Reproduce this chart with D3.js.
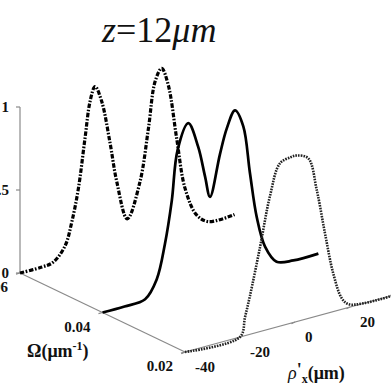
<!DOCTYPE html>
<html>
<head>
<meta charset="utf-8">
<script src="https://cdn.jsdelivr.net/npm/d3@7"></script>
<style>
  html, body { margin: 0; padding: 0; background: #fff; }
  svg { display: block; }
</style>
</head>
<body>
<svg id="chart" width="391" height="391"></svg>
<script>
// Data
const omegaLevels = [0.06, 0.04, 0.02];          // one curve per spectral slice
const rhoTicks = [-40, -20, 0, 20];
const omegaTicks = [0.06, 0.04, 0.02];
const omegaTickLabels = ["0.06", "0.04", "0.02"];
const intensityTicks = [0, 0.5, 1];
const intensityTickLabels = ["0", "0.5", "1"];

// Omega = 0.06 (dash-dot)
const rho06 = [-40, -32, -28, -23.6, -21.2, -18.8, -16.4, -14.5, -12.7, -10.3, -7.3, -4.8, -1.0, 3.6, 6.7, 9.1, 11.5, 13.9, 17, 20, 24.2, 28.5, 38];
const int06 = [0, 0, 0.01, 0.09, 0.22, 0.41, 0.70, 0.92, 1.0, 0.90, 0.64, 0.39, 0.15, 0.35, 0.66, 0.93, 1.0, 0.89, 0.55, 0.24, 0.06, 0, 0];

// Omega = 0.04 (solid)
const rho04 = [-40, -32, -24.5, -20.3, -17.3, -14.8, -12.7, -8.8, -5.2, -2.7, -0.9, 2.7, 5.2, 8.2, 11.2, 13.6, 16.1, 19.1, 23.3, 29.4, 38.5];
const int04 = [0, 0, 0.01, 0.11, 0.31, 0.56, 0.855, 1.0, 0.84, 0.65, 0.52, 0.76, 0.905, 1.0, 0.89, 0.60, 0.32, 0.13, 0.02, 0, 0];

// Omega = 0.02 (dotted)
const rho02 = [-40, -20, -18.2, -16.4, -12.7, -9.1, -5.5, -1.5, 0.6, 4.8, 7.9, 10.9, 13.9, 17, 19.4, 25, 38];
const int02 = [0, 0, 0.11, 0.23, 0.51, 0.80, 0.98, 1.0, 1.0, 0.965, 0.76, 0.485, 0.23, 0.066, 0.02, 0, 0];

const seriesRho = [rho06, rho04, rho02];
const seriesInt = [int06, int04, int02];
const dashes = ["4.5,1.6,1.6,1.6", null, "1.6,1.1"];
const widths = [3.2, 2.7, 2.6];

const serif = "Liberation Serif";
const svg = d3.select("#chart");

// oblique projection built from linear scales
const origin = [20, 273];
const rhoX = d3.scaleLinear().domain([-40, 40]).range([0, 220]);
const rhoY = d3.scaleLinear().domain([-40, 40]).range([0, -60]);
const omX = d3.scaleLinear().domain([0.06, 0.02]).range([0, 165]);
const omY = d3.scaleLinear().domain([0.06, 0.02]).range([0, 79]);
const zY = d3.scaleLinear().domain([0, 1]).range([0, -166]);

function proj(r, w, v) {
    return [origin[0] + rhoX(r) + omX(w), origin[1] + rhoY(r) + omY(w) + zY(v)];
}

function label(x, y, txt, anchor) {
    return svg.append("text")
        .attr("x", x).attr("y", y)
        .attr("text-anchor", anchor)
        .attr("font-family", serif)
        .attr("font-size", 15).attr("font-weight", "bold")
        .attr("fill", "#111")
        .text(txt);
}

const axisColor = "#8a8a8a";
const axes = svg.append("g").attr("stroke", axisColor).attr("stroke-width", 1.2).attr("fill", "none");

// vertical intensity axis
axes.append("line")
    .attr("x1", proj(-40, 0.06, 0)[0]).attr("y1", proj(-40, 0.06, 0)[1])
    .attr("x2", proj(-40, 0.06, 1)[0]).attr("y2", proj(-40, 0.06, 1)[1]);
intensityTicks.forEach((t, i) => {
    const p = proj(-40, 0.06, t);
    axes.append("line").attr("x1", p[0] - 4).attr("y1", p[1]).attr("x2", p[0]).attr("y2", p[1]);
    label(p[0] - 11, p[1] + 5, intensityTickLabels[i], "end");
});

// Omega axis (left front)
axes.append("line")
    .attr("x1", proj(-40, 0.06, 0)[0]).attr("y1", proj(-40, 0.06, 0)[1])
    .attr("x2", proj(-40, 0.02, 0)[0]).attr("y2", proj(-40, 0.02, 0)[1]);
omegaTicks.forEach((t, i) => {
    const p = proj(-40, t, 0);
    axes.append("line").attr("x1", p[0]).attr("y1", p[1]).attr("x2", p[0] - 4).attr("y2", p[1] + 1.1);
    label(p[0] - 12, p[1] + 19, omegaTickLabels[i], "end");
});

// rho axis (right front)
axes.append("line")
    .attr("x1", proj(-40, 0.02, 0)[0]).attr("y1", proj(-40, 0.02, 0)[1])
    .attr("x2", proj(40, 0.02, 0)[0]).attr("y2", proj(40, 0.02, 0)[1]);
rhoTicks.forEach(t => {
    const p = proj(t, 0.02, 0);
    axes.append("line").attr("x1", p[0]).attr("y1", p[1]).attr("x2", p[0] - 3.6).attr("y2", p[1] + 1.7);
    label(p[0] + 10, p[1] + 20, String(t), "start");
});

// curves
const line = d3.line().curve(d3.curveCatmullRom.alpha(0.5));
omegaLevels.forEach((w, k) => {
    const pts = seriesRho[k].map((r, i) => proj(r, w, seriesInt[k][i]));
    svg.append("path")
        .attr("d", line(pts))
        .attr("fill", "none")
        .attr("stroke", k === 2 ? "#222" : "#000")
        .attr("stroke-width", widths[k])
        .attr("stroke-linecap", "butt")
        .attr("stroke-dasharray", dashes[k]);
});

// title
const title = svg.append("text").attr("x", 102).attr("y", 42)
    .attr("font-family", serif).attr("font-size", 36).attr("fill", "#111");
title.append("tspan").attr("font-style", "italic").text("z");
title.append("tspan").text("=12");
title.append("tspan").attr("font-style", "italic").text("\u03bcm");

// Omega label
const omLab = svg.append("text").attr("x", 27).attr("y", 357)
    .attr("font-family", serif).attr("font-size", 18).attr("font-weight", "bold").attr("fill", "#111");
omLab.append("tspan").text("\u03a9(\u03bcm");
omLab.append("tspan").attr("dy", -7).attr("font-size", 12).text("-1");
omLab.append("tspan").attr("dy", 7).text(")");

// rho label
const rhoLab = svg.append("text").attr("x", 288).attr("y", 379)
    .attr("font-family", serif).attr("font-size", 18).attr("font-weight", "bold").attr("fill", "#111");
rhoLab.append("tspan").attr("font-style", "italic").attr("font-weight", "normal").text("\u03c1");
rhoLab.append("tspan").attr("dy", -3).text("'");
rhoLab.append("tspan").attr("dy", 7).attr("font-size", 12).text("x");
rhoLab.append("tspan").attr("dy", -4).text("(\u03bcm)");
</script>
</body>
</html>
